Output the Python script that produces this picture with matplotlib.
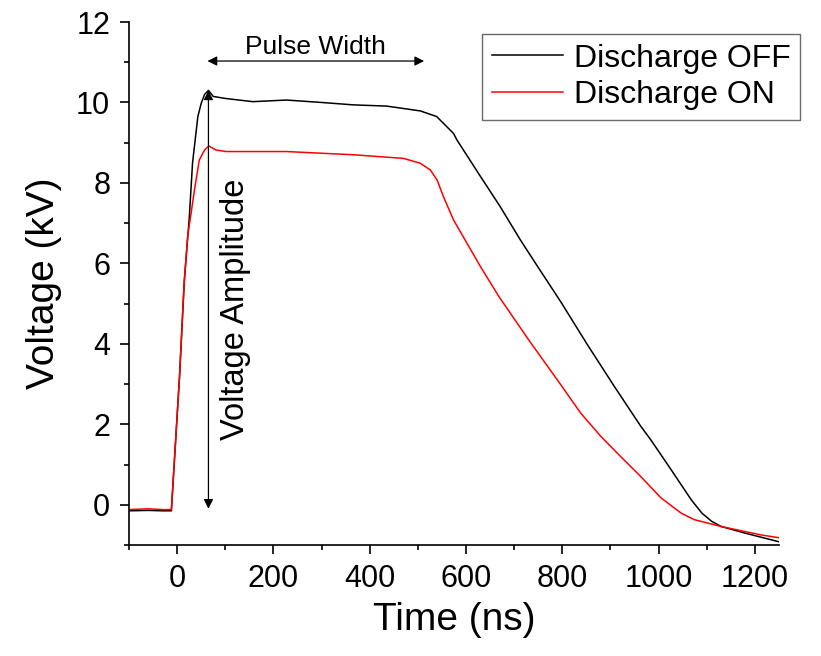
import numpy as np
import matplotlib.pyplot as plt
from matplotlib.ticker import MultipleLocator

plt.rcParams['font.family'] = ['Liberation Sans', 'DejaVu Sans']

# values (time in ns, voltage in kV)
t_off = [-100, -60, -30, -12, 5, 15, 25, 32, 43, 50, 57, 65, 75, 100, 157, 227,
         300, 366, 435, 505, 539, 574, 581, 630, 671, 713, 751, 797, 852, 907,
         963, 984, 1026, 1068, 1090, 1110, 1130, 1178, 1250]
v_off = [-0.15, -0.14, -0.15, -0.15, 3.2, 5.6, 7.1, 8.5, 9.65, 9.98, 10.2, 10.3,
         10.15, 10.1, 10.02, 10.06, 10.0, 9.94, 9.91, 9.79, 9.65, 9.23, 9.07,
         8.16, 7.41, 6.58, 5.88, 5.04, 3.98, 2.96, 1.95, 1.61, 0.87, 0.12, -0.21,
         -0.41, -0.54, -0.70, -0.92]

t_on = [-100, -60, -30, -12, 5, 14, 22, 29, 36, 46, 57, 66, 80, 102, 227, 366,
        470, 505, 526, 540, 553, 574, 602, 630, 668, 730, 797, 838, 880, 921,
        963, 1005, 1047, 1074, 1130, 1213, 1250]
v_on = [-0.12, -0.10, -0.12, -0.12, 3.2, 5.4, 6.7, 7.25, 7.83, 8.57, 8.82, 8.92,
        8.82, 8.78, 8.78, 8.70, 8.61, 8.49, 8.32, 8.07, 7.66, 7.08, 6.50, 5.92,
        5.18, 4.1, 2.98, 2.28, 1.70, 1.20, 0.70, 0.17, -0.21, -0.37, -0.54,
        -0.75, -0.82]

labels = ['Discharge OFF', 'Discharge ON']

fig = plt.figure(figsize=(8.21, 6.56), dpi=100)
ax = fig.add_axes([129/821, 1-545/656, (779-129)/821, (545-22)/656])

ax.plot(t_off, v_off, color='black', lw=1.1, label=labels[0])
ax.plot(t_on, v_on, color='red', lw=1.1, label=labels[1])

ax.set_xlim(-100, 1250)
ax.set_ylim(-1, 12)
ax.xaxis.set_major_locator(MultipleLocator(200))
ax.xaxis.set_minor_locator(MultipleLocator(100))
ax.yaxis.set_major_locator(MultipleLocator(2))
ax.yaxis.set_minor_locator(MultipleLocator(1))

for s in ['top', 'right']:
    ax.spines[s].set_visible(False)
for s in ['left', 'bottom']:
    ax.spines[s].set_linewidth(1.2)
ax.tick_params(which='major', direction='out', length=6.5, width=1.2,
               labelsize=22, pad=7)
ax.tick_params(which='minor', direction='out', length=3.5, width=1.2)

ax.set_xlabel('Time (ns)', fontsize=28, labelpad=6)
ax.set_ylabel('Voltage (kV)', fontsize=28, labelpad=10)

# annotations
ax.annotate('', xy=(63, 11.03), xytext=(513, 11.03),
            arrowprops=dict(arrowstyle='<|-|>', color='black', lw=0.9,
                            mutation_scale=14, shrinkA=0, shrinkB=0))
ax.text(288, 11.38, 'Pulse Width', fontsize=19, ha='center', va='center')
ax.annotate('', xy=(65, 10.3), xytext=(65, -0.1),
            arrowprops=dict(arrowstyle='<|-|>', color='black', lw=0.9,
                            mutation_scale=14, shrinkA=0, shrinkB=0))
ax.text(121, 4.85, 'Voltage Amplitude', fontsize=23.5, rotation=90,
        ha='center', va='center')

leg = ax.legend(loc='upper right', bbox_to_anchor=(800/821, 1-34/656),
                bbox_transform=fig.transFigure, fontsize=23, frameon=True,
                fancybox=False, edgecolor='#444444', borderpad=0.3,
                borderaxespad=0, handlelength=2.25, handletextpad=0.32,
                labelspacing=0.2)
leg.get_frame().set_linewidth(1.0)

fig.savefig('out.png', dpi=100)
